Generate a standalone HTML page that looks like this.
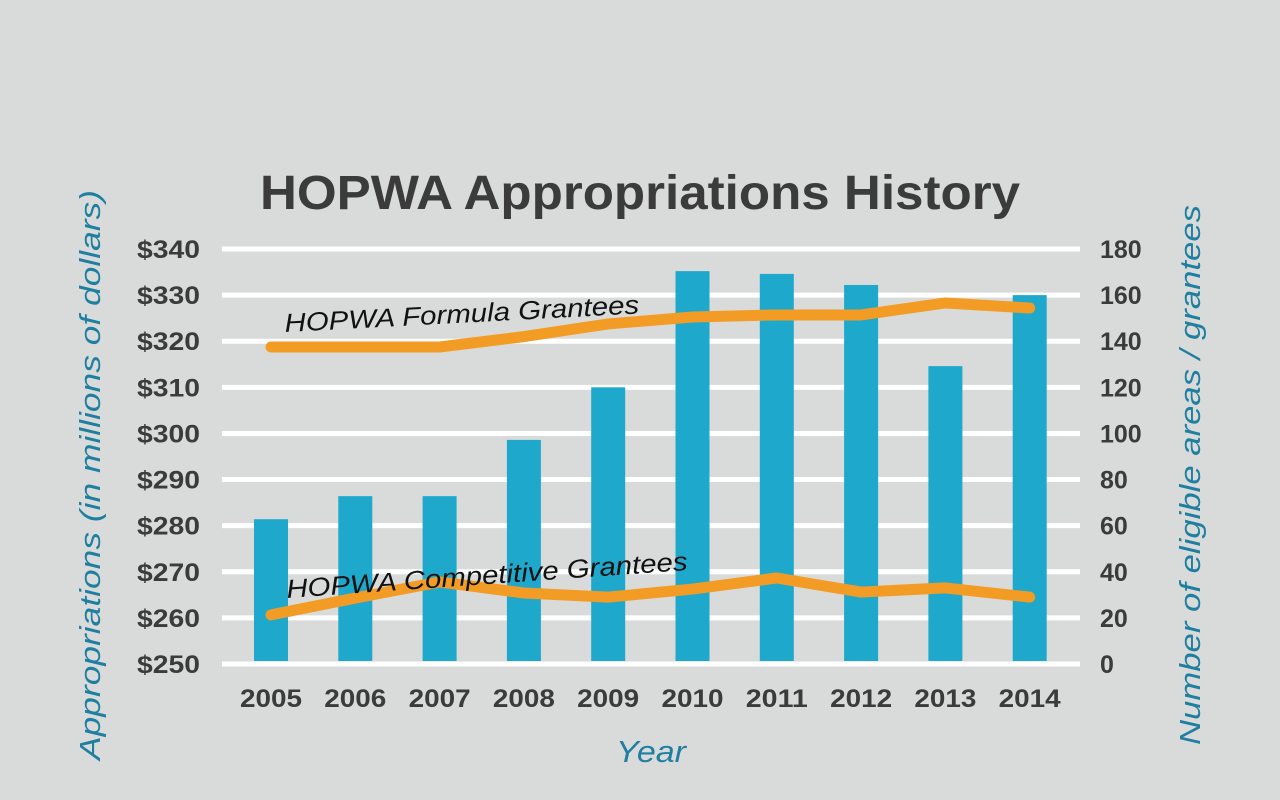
<!DOCTYPE html>
<html><head><meta charset="utf-8"><style>
html,body{margin:0;padding:0;background:#d9dbda;}
svg{display:block;font-family:"Liberation Sans",sans-serif;}
</style></head><body>
<svg id="chart" width="1280" height="800">
<rect width="1280" height="800" fill="#d9dbda"/>
<text x="260" y="209" textLength="760" lengthAdjust="spacingAndGlyphs" font-size="48" font-weight="bold" fill="#3b3b3b">HOPWA Appropriations History</text>
<g id="grid"></g><g id="bars"></g><g id="lines"></g><g id="ticks"></g>
<text x="285" y="332" font-size="26" font-style="italic" fill="#111" textLength="355" lengthAdjust="spacingAndGlyphs" transform="rotate(-3 285 332)">HOPWA Formula Grantees</text>
<text x="287" y="598" font-size="26" font-style="italic" fill="#111" textLength="402" lengthAdjust="spacingAndGlyphs" transform="rotate(-4 287 598)">HOPWA Competitive Grantees</text>
<text x="616" y="762" textLength="70" lengthAdjust="spacingAndGlyphs" font-size="31" font-style="italic" fill="#1f7fa0">Year</text>
<text transform="translate(100 475) rotate(-90)" text-anchor="middle" textLength="570" lengthAdjust="spacingAndGlyphs" font-size="29" font-style="italic" fill="#1f7fa0">Appropriations (in millions of dollars)</text>
<text transform="translate(1200 475) rotate(-90)" text-anchor="middle" textLength="540" lengthAdjust="spacingAndGlyphs" font-size="29" font-style="italic" fill="#1f7fa0">Number of eligible areas / grantees</text>
</svg>
<script>
const years=["2005","2006","2007","2008","2009","2010","2011","2012","2013","2014"];
const appropriations=[281.4,286.4,286.4,298.6,310,335.2,334.6,332.2,314.6,330];
const formulaGrantees=[137.5,137.5,137.5,142,147.5,150.5,151.4,151.4,156.6,154.4];
const competitiveGrantees=[21.3,28.6,35.6,30.8,29,32.5,37.3,31.2,33,29];
const leftTicks=[250,260,270,280,290,300,310,320,330,340];
const rightTicks=[0,20,40,60,80,100,120,140,160,180];
const NS="http://www.w3.org/2000/svg";
const yTop=249,yBot=664;
const yL=v=>yBot-(v-250)/90*(yBot-yTop);
const yR=v=>yBot-v/180*(yBot-yTop);
const xC=i=>271+i*84.3;
function mk(t,a,p){const e=document.createElementNS(NS,t);for(const k in a)e.setAttribute(k,a[k]);document.getElementById(p).appendChild(e);return e;}
leftTicks.forEach((v,i)=>{
 const l=mk('line',{x1:222,x2:1080,y1:yL(v),y2:yL(v),stroke:'#fff','stroke-width':5},'grid');
 
 
 const t=mk('text',{x:137,y:yL(v)+9,textLength:63,lengthAdjust:'spacingAndGlyphs','font-size':25,'font-weight':'bold',fill:'#3b3b3b'},'ticks');t.textContent='$'+v;
 
 
});
rightTicks.forEach(v=>{
 const t=mk('text',{x:1100,y:yR(v)+9,'font-size':25,'font-weight':'bold',fill:'#3b3b3b'},'ticks');t.textContent=v;
 
 
});
years.forEach((y,i)=>{
 const r=mk('rect',{x:xC(i)-17,y:yL(appropriations[i]),width:34,height:661-yL(appropriations[i]),fill:'#1ea8cc'},'bars');
 
 
 const t=mk('text',{x:xC(i)-31,y:707,textLength:62,lengthAdjust:'spacingAndGlyphs','font-size':25,'font-weight':'bold',fill:'#3b3b3b'},'ticks');t.textContent=y;
 
 
});
function line(data,name){
 const p=mk('polyline',{points:data.map((v,i)=>xC(i)+','+yR(v)).join(' '),fill:'none',stroke:'#f39c25','stroke-width':11,'stroke-linecap':'round','stroke-linejoin':'round'},'lines');
 
 
}
line(formulaGrantees,'formula-grantees-line');
line(competitiveGrantees,'competitive-grantees-line');
</script>
</body></html>
